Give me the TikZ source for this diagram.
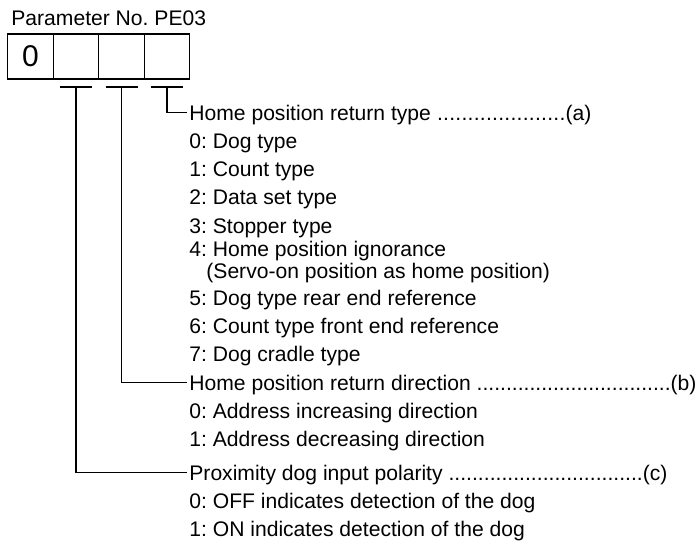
\documentclass[tikz,border=0pt]{standalone}
\usepackage{fontspec}
\setmainfont{Liberation Sans}
\usepackage{tikz}
\usetikzlibrary{positioning,calc}
\frenchspacing
\tikzset{
  digit/.style={rectangle, draw, line width=0.7pt, outer sep=0pt, inner sep=0pt,
                minimum width=22.75pt, minimum height=22.5pt,
                font=\fontsize{15}{17}\selectfont},
  item/.style={anchor=base west, inner sep=0pt, font=\fontsize{10.55}{12}\selectfont},
  bar/.style={line width=0.7pt},
  lead/.style={line width=0.7pt},
}
\newcommand{\DotItem}[3]{\makebox[#1][l]{#2\ \xleaders\hbox{.}\hfill#3}}

\begin{document}
\begin{tikzpicture}[x=0.5pt, y=-0.5pt]
  \useasboundingbox (0,0) rectangle (697,559);

  % ===== Parameter digits ==============================================
  \node[item] (title) at (11,25) {Parameter No. PE03};
  \node[digit] (d1) at (30.5,56.5) {0};
  \node[digit, right=0pt of d1] (d2) {};
  \node[digit, right=0pt of d2] (d3) {};
  \node[digit, right=0pt of d3] (d4) {};

  % ===== (a) home position return type =================================
  \node[item] (ha) at (189,120) {\DotItem{201pt}{Home position return type}{(a)}};
  \node[item] (a0) at (189,148) {0: Dog type};
  \node[item] (a1) at (189,176) {1: Count type};
  \node[item] (a2) at (189,204) {2: Data set type};
  \node[item] (a3) at (189,233) {3: Stopper type};
  \node[item] (a4) at (189,256) {4: Home position ignorance};
  \node[item] (a4b) at (206,278) {(Servo-on position as home position)};
  \node[item] (a5) at (189,305) {5: Dog type rear end reference};
  \node[item] (a6) at (189,333) {6: Count type front end reference};
  \node[item] (a7) at (189,361) {7: Dog cradle type};

  % ===== (b) home position return direction ============================
  \node[item] (hb) at (189,390) {\DotItem{253.5pt}{Home position return direction}{(b)}};
  \node[item] (b0) at (189,418) {0: Address increasing direction};
  \node[item] (b1) at (189,446) {1: Address decreasing direction};

  % ===== (c) proximity dog input polarity ==============================
  \node[item] (hc) at (189,480) {\DotItem{239pt}{Proximity dog input polarity}{(c)}};
  \node[item] (c0) at (189,508) {0: OFF indicates detection of the dog};
  \node[item] (c1) at (189,536) {1: ON indicates detection of the dog};

  % ===== Brackets under the digits =====================================
  \coordinate[below=4pt of d2] (k2);
  \coordinate[below=4pt of d3] (k3);
  \coordinate[below=4pt of d4] (k4);
  \foreach \k in {k2,k3,k4}
    \draw[bar] ([xshift=-8pt]\k) -- ([xshift=8pt]\k);
  \draw[lead] (k4) |- ([xshift=-1pt,yshift=1pt]ha.west);
  \draw[lead] (k3) |- ([xshift=-1pt,yshift=1pt]hb.west);
  \draw[lead] (k2) |- ([xshift=-1pt,yshift=1pt]hc.west);

\end{tikzpicture}
\end{document}
